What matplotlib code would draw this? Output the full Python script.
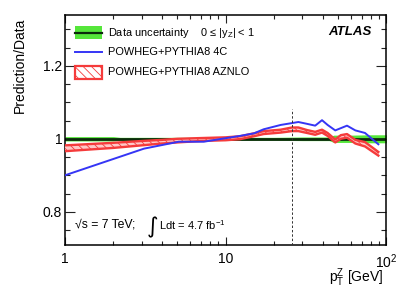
import numpy as np
import matplotlib
matplotlib.use("Agg")
import matplotlib.pyplot as plt
from matplotlib.patches import Rectangle
from matplotlib.ticker import FixedLocator, FixedFormatter, NullFormatter

plt.rcParams['font.family'] = ['Liberation Sans', 'DejaVu Sans']
plt.rcParams['mathtext.fontset'] = 'custom'
plt.rcParams['mathtext.rm'] = 'Liberation Sans'
plt.rcParams['mathtext.it'] = 'Liberation Sans:italic'
plt.rcParams['mathtext.bf'] = 'Liberation Sans:bold'
plt.rcParams['hatch.color'] = '#ff4444'
plt.rcParams['hatch.linewidth'] = 0.6

# ---- data ----
# data uncertainty band (half-width) vs pT
data_pt = [1, 2, 2.2, 10, 20, 30, 44, 47, 60, 80, 100]
data_unc = [0.006, 0.006, 0.004, 0.004, 0.004, 0.005, 0.005, 0.010, 0.010, 0.011, 0.011]

# POWHEG+PYTHIA8 4C
pt_4c = [1, 3.1, 5.1, 7.3, 10.1, 12.3, 15, 17.2, 22, 25.8, 28.3, 32, 36, 39.7, 43, 48, 56.8, 64, 73.5, 89]
r_4c = [0.900, 0.973, 0.992, 0.992, 1.002, 1.008, 1.015, 1.026, 1.038, 1.043, 1.046,
        1.041, 1.036, 1.051, 1.038, 1.023, 1.036, 1.023, 1.016, 0.985]

# POWHEG+PYTHIA8 AZNLO (central and half-width)
pt_az = [1, 2, 3, 4, 5, 7, 10, 12.3, 15, 17.2, 22, 25.8, 28.3, 32, 36, 39.7, 43, 48, 52, 56.8, 64, 73.5, 89]
r_az = [0.974, 0.982, 0.988, 0.992, 0.995, 0.998, 1.000, 1.003, 1.011, 1.017, 1.021, 1.026, 1.026,
        1.020, 1.015, 1.021, 1.012, 0.994, 1.005, 1.008, 0.992, 0.985, 0.959]
w_az = [0.008, 0.007, 0.006, 0.005, 0.005, 0.004, 0.004, 0.004, 0.004, 0.004, 0.004, 0.005, 0.005,
        0.004, 0.004, 0.004, 0.004, 0.004, 0.005, 0.005, 0.005, 0.006, 0.005]

x_ticks = [1, 10, 100]
x_ticklabels = ['1', '10', '10$^{2}$']
y_ticks = [0.8, 1.0, 1.2]
y_ticklabels = ['0.8', '1', '1.2']

cut_pt = 26

green = '#55e63a'
blue = '#3535f5'
red = '#f53b3b'

fig = plt.figure(figsize=(4.07, 2.92), dpi=100)
ax = fig.add_axes([65/407, 47/292, 321.5/407, 230.3/292])

# data band
dp = np.array(data_pt); du = np.array(data_unc)
ax.fill_between(dp, 1 - du, 1 + du, color=green, lw=0, zorder=1)
ax.plot([1, 100], [1, 1], color='#0c2a0c', lw=2.0, zorder=2)

# AZNLO band
pa = np.array(pt_az); ra = np.array(r_az); wa = np.array(w_az)
ax.fill_between(pa, ra - wa, ra + wa, facecolor='#ffc8c8', edgecolor=red,
                hatch='\\\\\\\\', lw=0, zorder=3)
ax.plot(pa, ra - wa, color=red, lw=1.7, zorder=4)
ax.plot(pa, ra + wa, color=red, lw=1.7, zorder=4)

# 4C line
ax.plot(pt_4c, r_4c, color=blue, lw=1.4, zorder=5)

ymin, ymax = 0.709, 1.34
ax.plot([cut_pt, cut_pt], [ymin, 1.082], color='#333333', lw=0.7, ls=(0, (2.5, 2)), zorder=6)

ax.set_xscale('log')
ax.set_xlim(1, 100)
ax.set_ylim(ymin, ymax)

ax.xaxis.set_major_locator(FixedLocator(x_ticks))
ax.xaxis.set_major_formatter(FixedFormatter(x_ticklabels))
minors = [m * d for d in (1, 10) for m in range(2, 10)]
ax.xaxis.set_minor_locator(FixedLocator(minors))
ax.xaxis.set_minor_formatter(NullFormatter())
ax.yaxis.set_major_locator(FixedLocator(y_ticks))
ax.yaxis.set_major_formatter(FixedFormatter(y_ticklabels))
ax.yaxis.set_minor_locator(FixedLocator(np.arange(0.75, 1.34, 0.05)))

ax.tick_params(which='both', direction='in', top=True, right=True, width=0.8, color='#222222')
ax.tick_params(axis='y', which='major', length=7.5, labelsize=10, pad=2)
ax.tick_params(axis='y', which='minor', length=3.8)
ax.tick_params(axis='x', which='major', length=5.5, labelsize=10, pad=5)
ax.tick_params(axis='x', which='minor', length=2.8)
for s in ax.spines.values():
    s.set_linewidth(1.1)

# legend (manual)
tx = (108 - 65) / 321.5
bx0 = (75 - 65) / 321.5
bw = 27 / 321.5
bh = 13 / 230.3
rows = [0.921, 0.838, 0.751]
ax.add_patch(Rectangle((bx0, rows[0] - bh / 2), bw, bh, transform=ax.transAxes,
                       facecolor=green, edgecolor='none', zorder=7))
ax.plot([bx0, bx0 + bw], [rows[0], rows[0]], transform=ax.transAxes, color='#0c2a0c', lw=1.6, zorder=8)
ax.plot([bx0, bx0 + bw], [rows[1], rows[1]], transform=ax.transAxes, color=blue, lw=1.4, zorder=8)
ax.add_patch(Rectangle((bx0, rows[2] - bh / 2), bw, bh, transform=ax.transAxes,
                       facecolor='white', edgecolor=red, hatch='\\\\\\\\', lw=1.6, zorder=7))
legend_labels = ['Data uncertainty    0 \u2264 |y$_{\\mathrm{Z}}$| < 1',
                 'POWHEG+PYTHIA8 4C',
                 'POWHEG+PYTHIA8 AZNLO']
for y, lab in zip(rows, legend_labels):
    ax.text(tx, y, lab, transform=ax.transAxes, fontsize=7.9, va='center', ha='left')

ax.text(0.953, 0.925, 'ATLAS', transform=ax.transAxes, fontsize=9.5, fontweight='bold',
        fontstyle='italic', ha='right', va='center')
ax.text(0.031, 0.087, '\u221as = 7 TeV;', transform=ax.transAxes,
        fontsize=8.8, ha='left', va='center')
ax.text(0.272, 0.078, '\u222b', transform=ax.transAxes,
        fontsize=16, ha='center', va='center', family=['DejaVu Sans'])
ax.text(0.292, 0.087, 'Ldt = 4.7 fb$^{-1}$', transform=ax.transAxes,
        fontsize=8, ha='left', va='center')

fig.text(383 / 407, 14 / 292, r'p$_{\mathrm{T}}^{\mathrm{Z}}$ [GeV]', fontsize=10, ha='right', va='center')
fig.text(20 / 407, 1 - 18 / 292, 'Prediction/Data', fontsize=10, rotation=90, ha='center', va='top')

fig.savefig('out.png', dpi=100)
